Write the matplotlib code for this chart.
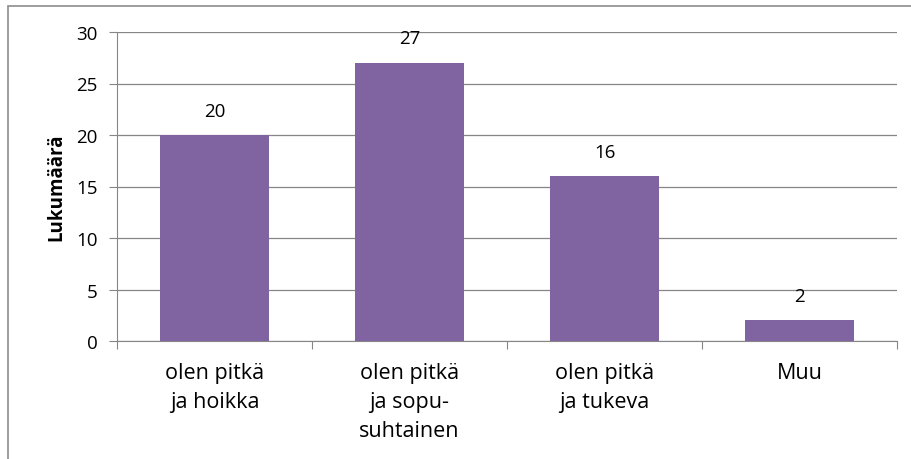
import numpy as np
import matplotlib.pyplot as plt
from matplotlib.patches import Rectangle

categories = ['olen pitkä\nja hoikka', 'olen pitkä\nja sopu-\nsuhtainen', 'olen pitkä\nja tukeva', 'Muu']
counts = [20, 27, 16, 2]
y_ticks = [0, 5, 10, 15, 20, 25, 30]

plt.rcParams['font.family'] = ['Open Sans', 'DejaVu Sans']

fig = plt.figure(figsize=(9.12, 4.6), dpi=100)
fig.patches.append(Rectangle((8 / 912, -0.1), 1.2, 1 - 7 / 460 + 0.1, transform=fig.transFigure,
                             fill=False, edgecolor='#8c8c8c', linewidth=1.2))
ax = fig.add_axes([117 / 912, 1 - 342 / 460, 780 / 912, 309 / 460])

x = np.arange(len(counts))
bars = ax.bar(x, counts, width=0.556, color='#8064A2', zorder=3)
for xi, v in zip(x, counts):
    ax.text(xi, v + 1.5, str(v), ha='center', va='bottom', fontsize=13.5)

ax.set_xlim(-0.5, len(counts) - 0.5)
ax.set_ylim(0, 30)
ax.set_yticks(y_ticks)
ax.tick_params(axis='y', labelsize=13.5, length=6, color='#868686', pad=8)
ax.yaxis.grid(True, color='#868686', linewidth=0.9, zorder=0)

ax.set_xticks(np.arange(len(counts) + 1) - 0.5, minor=False)
ax.set_xticklabels([])
ax.set_xticks(x, minor=True)
ax.set_xticklabels(categories, minor=True, fontsize=15.5, linespacing=1.5)
ax.tick_params(axis='x', which='major', length=6, color='#868686')
ax.tick_params(axis='x', which='minor', length=0, pad=15)
for lab in ax.get_xticklabels(minor=True):
    lab.set_verticalalignment('top')

for s in ['top', 'right']:
    ax.spines[s].set_visible(False)
for s in ['left', 'bottom']:
    ax.spines[s].set_color('#868686')

ax.set_ylabel('Lukumäärä', fontsize=13.5, fontweight='bold', labelpad=7)

fig.savefig('out.png', dpi=100)
